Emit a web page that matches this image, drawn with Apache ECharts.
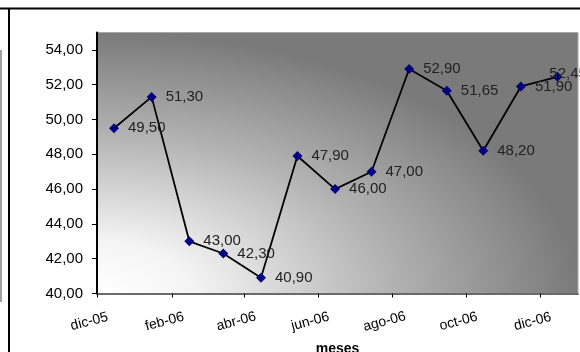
<!DOCTYPE html>
<html>
<head>
<meta charset="utf-8">
<script src="https://cdn.jsdelivr.net/npm/echarts@6/dist/echarts.min.js"></script>
<style>
  html, body { margin: 0; padding: 0; background: #ffffff; }
  #chart { width: 580px; height: 352px; }
</style>
</head>
<body>
<div id="chart"></div>
<script>
// Monthly readings, one per month (taken mid-month)
const dates = [
  '2005-12-15', '2006-01-15', '2006-02-15', '2006-03-15', '2006-04-15',
  '2006-05-15', '2006-06-15', '2006-07-15', '2006-08-15', '2006-09-15',
  '2006-10-15', '2006-11-15', '2006-12-15'
];
const values = [49.50, 51.30, 43.00, 42.30, 40.90, 47.90, 46.00, 47.00, 52.90, 51.65, 48.20, 51.90, 52.45];

// Axis ranges and tick positions
const xStart = '2005-12-01';
const xEnd = '2007-01-01';
const xTickDates = ['2005-12-01', '2006-02-01', '2006-04-01', '2006-06-01', '2006-08-01', '2006-10-01', '2006-12-01'];
const monthNames = ['ene', 'feb', 'mar', 'abr', 'may', 'jun', 'jul', 'ago', 'sep', 'oct', 'nov', 'dic'];
const yMin = 40, yMax = 55;
const yTicks = [40, 42, 44, 46, 48, 50, 52, 54];
const xTitle = 'meses';

const DAY = 86400000;
function ts(s) {
  const p = s.split('-').map(Number);
  return Date.UTC(p[0], p[1] - 1, p[2]);
}
// x is measured in days from the start of the axis
function dayOf(s) { return Math.round((ts(s) - ts(xStart)) / DAY); }
function monthLabel(v) {
  const d = new Date(ts(xStart) + v * DAY);
  return monthNames[d.getUTCMonth()] + '-' + String(d.getUTCFullYear()).slice(2);
}
function comma(v) {
  return Number(v).toFixed(2).replace('.', ',');
}

const FONT = 'Liberation Sans, Arial, sans-serif';
const chart = echarts.init(document.getElementById('chart'), null, { renderer: 'canvas' });

// the last point sits at the right edge, so its label is pulled back inside
const seriesData = dates.map((d, i) => {
  const item = { value: [dayOf(d), values[i]] };
  if (i === dates.length - 1) item.label = { offset: [-22, -3] };
  return item;
});

chart.setOption({
  animation: false,
  backgroundColor: '#ffffff',
  textStyle: { fontFamily: FONT },
  grid: {
    left: 97, top: 32.5, right: 2, bottom: 58.5,
    outerBoundsMode: 'none',
    containLabel: false,
    show: true, borderColor: '#a8a8a8', borderWidth: 1,
    backgroundColor: 'transparent'
  },
  xAxis: {
    type: 'value',
    min: 0,
    max: dayOf(xEnd),
    name: xTitle,
    nameLocation: 'middle',
    nameGap: 49,
    nameTextStyle: { fontFamily: FONT, fontSize: 14, fontWeight: 'bold', color: '#000' },
    axisLine: { show: true, onZero: false, lineStyle: { color: '#6a6a6a', width: 2 } },
    axisTick: {
      show: true, length: 4, inside: false,
      customValues: xTickDates.map(dayOf),
      lineStyle: { color: '#000', width: 1 }
    },
    axisLabel: {
      customValues: xTickDates.map(dayOf),
      formatter: monthLabel,
      rotate: 15,
      align: 'center',
      verticalAlign: 'middle',
      margin: 26,
      padding: [0, 16, 0, 0],
      fontFamily: FONT,
      fontSize: 14,
      color: '#000'
    },
    splitLine: { show: false }
  },
  yAxis: {
    type: 'value',
    min: yMin,
    max: yMax,
    interval: 1,
    axisLine: { show: true, onZero: false, lineStyle: { color: '#000', width: 2 } },
    axisTick: {
      show: true, length: 5, inside: false,
      customValues: yTicks,
      lineStyle: { color: '#000', width: 1 }
    },
    axisLabel: {
      customValues: yTicks,
      formatter: comma,
      margin: 14,
      fontFamily: FONT,
      fontSize: 15,
      color: '#000'
    },
    splitLine: { show: false }
  },
  series: [{
    type: 'line',
    data: seriesData,
    symbol: 'diamond',
    symbolSize: 10,
    showAllSymbol: true,
    z: 5,
    lineStyle: { color: '#000000', width: 1.8 },
    itemStyle: { color: '#000080', borderWidth: 0 },
    label: {
      show: true,
      position: 'right',
      distance: 9,
      formatter: p => comma(p.value[1]),
      fontFamily: FONT,
      fontSize: 15,
      color: '#222'
    },
    clip: false
  }]
});

// Plot-area shading: elliptical gradient spreading out from the lower-left corner
const px0 = chart.convertToPixel({ xAxisIndex: 0 }, 0);
const px1 = chart.convertToPixel({ xAxisIndex: 0 }, dayOf(xEnd));
const py0 = chart.convertToPixel({ yAxisIndex: 0 }, yMax);
const py1 = chart.convertToPixel({ yAxisIndex: 0 }, yMin);
const w = px1 - px0, h = py1 - py0;

chart.setOption({
  graphic: [
    {
      type: 'rect',
      silent: true,
      z: -10,
      x: px0, y: py0,
      scaleX: w / h, scaleY: 1,
      shape: { x: 0, y: 0, width: h, height: h },
      style: {
        fill: {
          type: 'radial', x: 0, y: 1, r: 1,
          colorStops: [
            { offset: 0, color: '#ffffff' },
            { offset: 0.2, color: '#f4f4f4' },
            { offset: 0.6, color: '#b4b4b4' },
            { offset: 1, color: '#7a7a7a' }
          ]
        }
      }
    },
    // sheet frame lines
    { type: 'line', silent: true, shape: { x1: 0, y1: 8.5, x2: 580, y2: 8.5 }, style: { stroke: '#000', lineWidth: 2 } },
    { type: 'line', silent: true, shape: { x1: 9, y1: 8, x2: 9, y2: 352 }, style: { stroke: '#000', lineWidth: 2 } },
    { type: 'line', silent: true, shape: { x1: 1, y1: 50, x2: 1, y2: 302 }, style: { stroke: '#a0a0a0', lineWidth: 2 } }
  ]
});
</script>
</body>
</html>
